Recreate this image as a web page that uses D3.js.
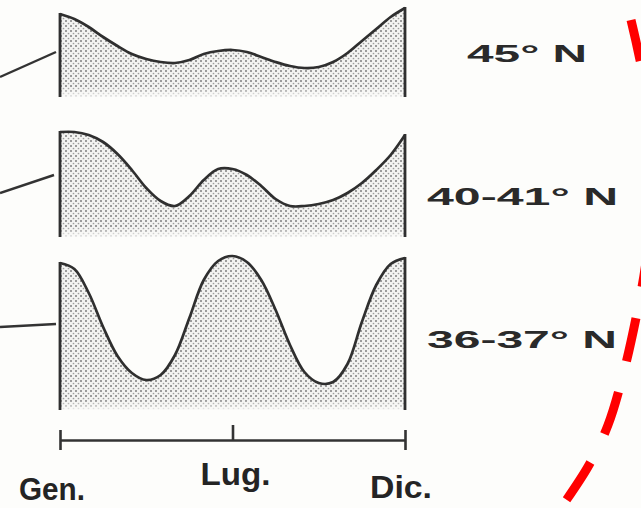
<!DOCTYPE html>
<html><head><meta charset="utf-8">
<script src="https://cdn.jsdelivr.net/npm/d3@7"></script>
<style>html,body{margin:0;padding:0;background:#fdfdfb;}svg{display:block;}</style>
</head><body>
<script>
// ---- data ----
const halfMonths = [0,1,2,3,4,5,6,7,8,9,10,11,12,13,14,15,16,17,18,19,20,21,22,23,24];
const seriesNames = ["45° N", "40-41° N", "36-37° N"];
const values45 = [83,78,70,60,51,43,38,35,34,37,43,46,47,45,40,35,31,29,30,35,44,56,68,80,89];
const values40 = [105,105,102,95,83,67,49,36,31,41,57,68,68,62,51,38,31,31,33,37,44,54,67,82,102];
const values36 = [147,141,117,83,54,37,30,35,55,92,130,149,154,148,130,100,65,38,27,28,46,88,125,146,152];
const tickValues = [0, 12, 24];
const tickLabels = ["Gen.", "Lug.", "Dic."];

const W = 641, H = 508;
const svg = d3.select("body").append("svg").attr("width", W).attr("height", H);
const defs = svg.append("defs");

// stipple pattern
const pat = defs.append("pattern").attr("id","dots").attr("patternUnits","userSpaceOnUse")
  .attr("width",5).attr("height",5);
pat.append("rect").attr("width",5).attr("height",5).attr("fill","#f3f3f1");
pat.append("circle").attr("cx",1).attr("cy",1).attr("r",1.0).attr("fill","#7e7e7e");
pat.append("circle").attr("cx",3.5).attr("cy",3.5).attr("r",0.85).attr("fill","#9c9c9c");

const x = d3.scaleLinear().domain([0,24]).range([60,405]);

const panels = [
  {name: seriesNames[0], vals: values45, base: 97,  lab: {x:467, y:62, w:120}, conn:[[0,77],[56,52]]},
  {name: seriesNames[1], vals: values40, base: 237, lab: {x:427, y:205, w:191}, conn:[[0,193],[54,175]]},
  {name: seriesNames[2], vals: values36, base: 410, lab: {x:427, y:348, w:190}, conn:[[0,327],[56,324]]}
];

panels.forEach((p, i) => {
  const y = d3.scaleLinear().domain([0,160]).range([p.base, p.base-160]);
  const pts = p.vals.map((v,k) => [halfMonths[k], v]);
  const gid = "fade"+i;
  const lg = defs.append("linearGradient").attr("id",gid).attr("gradientUnits","userSpaceOnUse")
    .attr("x1",0).attr("x2",0).attr("y1",p.base-10).attr("y2",p.base+2);
  lg.append("stop").attr("offset",0).attr("stop-color","#fff");
  lg.append("stop").attr("offset",1).attr("stop-color","#000");
  defs.append("mask").attr("id","m"+i).append("rect")
    .attr("x",0).attr("y",0).attr("width",W).attr("height",H).attr("fill","url(#"+gid+")");

  const area = d3.area().curve(d3.curveCatmullRom.alpha(0.5))
    .x(d => x(d[0])).y0(y(0)).y1(d => y(d[1]));
  svg.append("path").datum(pts).attr("d", area).attr("fill","url(#dots)").attr("mask","url(#m"+i+")");

  const line = d3.line().curve(d3.curveCatmullRom.alpha(0.5)).x(d => x(d[0])).y(d => y(d[1]));
  svg.append("path").datum(pts).attr("d", line).attr("fill","none")
    .attr("stroke","#2f2f2f").attr("stroke-width",2.7).attr("stroke-linejoin","round");
  svg.append("line").attr("x1",x(0)).attr("x2",x(0)).attr("y1",y(p.vals[0])-1).attr("y2",y(0))
    .attr("stroke","#2f2f2f").attr("stroke-width",2.8);
  svg.append("line").attr("x1",x(24)).attr("x2",x(24)).attr("y1",y(p.vals[24])-1).attr("y2",y(0))
    .attr("stroke","#2f2f2f").attr("stroke-width",2.8);
  svg.append("line").attr("x1",p.conn[0][0]).attr("y1",p.conn[0][1]).attr("x2",p.conn[1][0]).attr("y2",p.conn[1][1])
    .attr("stroke","#333").attr("stroke-width",2.4);
  svg.append("text").attr("x",p.lab.x).attr("y",p.lab.y).text(p.name)
    .attr("font-family","'Liberation Sans', Arial, sans-serif").attr("font-weight","bold")
    .attr("font-size",24).attr("fill","#2a2a2a")
    .attr("textLength",p.lab.w).attr("lengthAdjust","spacingAndGlyphs");
});

// time axis
const axisY = 440;
const ax = svg.append("g").attr("transform",`translate(0,${axisY})`)
  .call(d3.axisTop(x).tickValues(tickValues).tickFormat("").tickSize(15).tickSizeOuter(0));
ax.select(".domain").attr("stroke","#333").attr("stroke-width",2.4);
ax.selectAll(".tick line").attr("stroke","#333").attr("stroke-width",2.6);
ax.selectAll(".tick").filter(d => d !== 12).select("line").attr("y1",-10).attr("y2",10);

const labOff = [{dx:-8, y:500},{dx:3, y:485},{dx:-4, y:498}];
const labW = [66, 70, 62];
tickLabels.forEach((t,i) => {
  svg.append("text").attr("x", x(tickValues[i]) + labOff[i].dx - labW[i]/2).attr("y", labOff[i].y)
    .text(t).attr("font-family","'Liberation Sans', Arial, sans-serif").attr("font-weight","bold")
    .attr("font-size",32).attr("fill","#242424")
    .attr("textLength",labW[i]).attr("lengthAdjust","spacingAndGlyphs");
});

// red dashed annotation (hand drawn on the scan)
const redPath = [[631,20],[643,75],[656,165],[646,262],[636,318],[623,375],[608,425],[589,465],[565,502]];
svg.append("path").attr("d", d3.line().curve(d3.curveCatmullRom)(redPath))
  .attr("fill","none").attr("stroke","#ff0000").attr("stroke-width",9)
  .attr("stroke-dasharray","44 32").attr("stroke-dashoffset",2);
</script>
</body></html>
